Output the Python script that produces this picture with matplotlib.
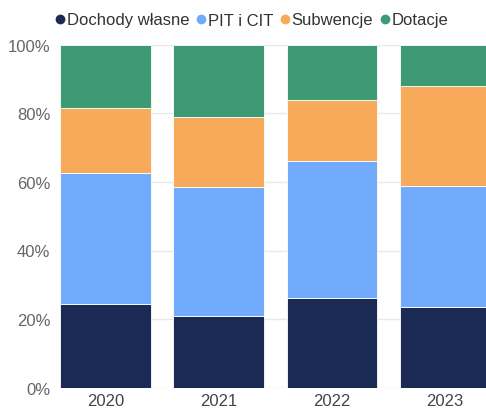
import matplotlib.pyplot as plt
from matplotlib.lines import Line2D
import numpy as np

# Data (shares in %)
YEARS = ['2020', '2021', '2022', '2023']
DOCHODY_WLASNE = [24.3, 20.9, 26.2, 23.5]
PIT_CIT = [38.3, 37.7, 40.0, 35.2]
SUBWENCJE = [18.9, 20.3, 17.6, 29.3]
DOTACJE = [18.5, 21.1, 16.2, 12.0]

SERIES_NAMES = ['Dochody własne', 'PIT i CIT', 'Subwencje', 'Dotacje']
COLORS = ['#1a2a55', '#72aafc', '#f7aa5a', '#3d9a73']

plt.rcParams['font.family'] = ['Liberation Sans', 'DejaVu Sans']

fig = plt.figure(figsize=(4.86, 4.10), dpi=100)
ax = fig.add_axes([60 / 486, 21.3 / 410, 1 - 60 / 486, 343 / 410])

x = np.arange(len(YEARS))
bottom = np.zeros(len(YEARS))
for name, vals, col in zip(SERIES_NAMES, [DOCHODY_WLASNE, PIT_CIT, SUBWENCJE, DOTACJE], COLORS):
    vals = np.array(vals)
    ax.bar(x, vals, width=0.8, bottom=bottom, color=col, edgecolor='#ffffff',
           linewidth=0.6, zorder=3, label=name)
    bottom += vals

ax.set_xlim(-0.4, -0.4 + 426 / 113.3)
ax.set_ylim(0, 100)
ax.set_yticks(range(0, 101, 20))
ax.set_yticklabels([f'{v}%' for v in range(0, 101, 20)])
ax.set_xticks(x)
ax.set_xticklabels(YEARS)
ax.grid(axis='y', color='#e9e9e9', linewidth=1, zorder=0)
for s in ax.spines.values():
    s.set_visible(False)
ax.tick_params(length=0, labelsize=12, colors='#666666', pad=7)
ax.tick_params(axis='x', pad=4, colors='#444444')

handles = [Line2D([0], [0], marker='o', linestyle='', markersize=6,
                  markerfacecolor=c, markeredgecolor=c, label=n)
           for n, c in zip(SERIES_NAMES, COLORS)]
fig.legend(handles=handles, loc='center', bbox_to_anchor=(250 / 486, 1 - 21 / 410),
           ncol=4, frameon=False, fontsize=12, handletextpad=-0.1,
           columnspacing=0.2, handlelength=1.0, labelcolor='#333333',
           borderaxespad=0)

plt.savefig('out.png', dpi=100)
